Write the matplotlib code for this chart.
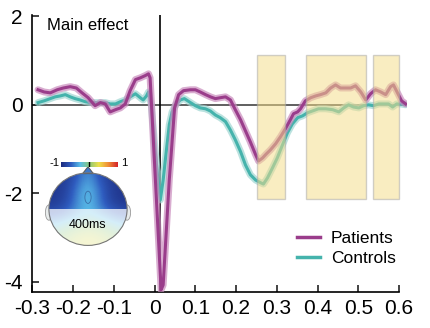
import numpy as np
import matplotlib
matplotlib.use('Agg')
from matplotlib import pyplot as plt
from matplotlib.patches import Ellipse, Rectangle, Polygon
from matplotlib.colors import LinearSegmentedColormap

plt.rcParams['font.family'] = ['Liberation Sans', 'DejaVu Sans']

# ERP amplitude (time in s)
t_pat = [-0.286, -0.271, -0.256, -0.239, -0.224, -0.207, -0.192, -0.178, -0.163, -0.146,
         -0.133, -0.121, -0.109, -0.096, -0.084, -0.072, -0.060, -0.047, -0.035, -0.023,
         -0.015, -0.011, 0.002, 0.016, 0.021, 0.036, 0.049, 0.059, 0.071, 0.088,
         0.100, 0.112, 0.125, 0.137, 0.149, 0.161, 0.174, 0.186, 0.198, 0.211,
         0.223, 0.235, 0.248, 0.255, 0.265, 0.274, 0.284, 0.297, 0.309, 0.321,
         0.333, 0.341, 0.351, 0.358, 0.370, 0.383, 0.395, 0.407, 0.420, 0.432,
         0.444, 0.456, 0.469, 0.481, 0.493, 0.506, 0.518, 0.530, 0.542, 0.555,
         0.567, 0.579, 0.586, 0.596, 0.606, 0.616]
patients = [0.34, 0.29, 0.27, 0.34, 0.38, 0.41, 0.38, 0.27, 0.16, -0.02,
            0.05, 0.02, -0.16, -0.11, -0.07, 0.02, 0.32, 0.57, 0.61, 0.66,
            0.70, 0.61, -1.70, -4.18, -4.07, -1.70, -0.07, 0.23, 0.32, 0.34,
            0.34, 0.29, 0.23, 0.18, 0.14, 0.16, 0.18, 0.11, -0.11, -0.34,
            -0.59, -0.84, -1.13, -1.27, -1.20, -1.11, -1.02, -0.88, -0.72, -0.54,
            -0.34, -0.20, -0.16, -0.09, 0.09, 0.16, 0.20, 0.23, 0.27, 0.38,
            0.45, 0.38, 0.38, 0.38, 0.43, 0.29, 0.11, 0.25, 0.34, 0.29,
            0.23, 0.41, 0.45, 0.27, 0.09, 0.02]

t_con = [-0.286, -0.271, -0.256, -0.244, -0.232, -0.219, -0.207, -0.195, -0.183, -0.170,
         -0.158, -0.146, -0.133, -0.121, -0.109, -0.096, -0.084, -0.072, -0.060, -0.047,
         -0.035, -0.028, -0.020, -0.015, -0.008, -0.001, 0.007, 0.014, 0.021, 0.029,
         0.036, 0.043, 0.053, 0.063, 0.073, 0.088, 0.100, 0.112, 0.125, 0.137,
         0.149, 0.161, 0.174, 0.186, 0.198, 0.211, 0.223, 0.235, 0.248, 0.260,
         0.267, 0.277, 0.289, 0.301, 0.314, 0.326, 0.338, 0.351, 0.363, 0.375,
         0.387, 0.402, 0.420, 0.437, 0.452, 0.464, 0.476, 0.488, 0.501, 0.513,
         0.525, 0.537, 0.550, 0.562, 0.574, 0.584, 0.594, 0.604, 0.616]
controls = [0.05, 0.09, 0.14, 0.18, 0.20, 0.23, 0.18, 0.14, 0.11, 0.07,
            0.05, 0.05, 0.05, 0.05, 0.02, 0.02, 0.07, 0.11, 0.18, 0.25,
            0.16, 0.11, 0.20, 0.29, 0.00, -0.79, -1.58, -2.15, -1.70, -1.02,
            -0.45, -0.16, 0.02, 0.11, 0.14, 0.05, -0.02, -0.07, -0.09, -0.14,
            -0.23, -0.29, -0.38, -0.57, -0.79, -1.06, -1.36, -1.58, -1.70, -1.76,
            -1.79, -1.65, -1.43, -1.20, -0.90, -0.63, -0.43, -0.29, -0.25, -0.18,
            -0.14, -0.09, -0.09, -0.11, -0.16, -0.07, 0.00, -0.05, -0.07, -0.02,
            0.00, -0.02, 0.02, 0.02, 0.02, -0.05, 0.02, 0.02, 0.00]

# significant windows
win_start = [0.252, 0.372, 0.536]
win_end = [0.319, 0.518, 0.600]
win_low, win_high = -2.13, 1.13

# scalp map values at 400 ms (rows top -> bottom)
topo = np.array([[-0.90, -0.88, -0.70, -0.45, -0.75, -0.90, -0.92],
                 [-0.90, -0.85, -0.55, -0.32, -0.60, -0.86, -0.92],
                 [-0.90, -0.80, -0.50, -0.28, -0.58, -0.85, -0.92],
                 [-0.75, -0.62, -0.45, -0.35, -0.45, -0.62, -0.75],
                 [-0.25, -0.10, 0.02, 0.08, 0.02, -0.10, -0.25],
                 [0.05, 0.15, 0.25, 0.30, 0.25, 0.15, 0.05]])

purple = '#9a3d8b'
purple_l = '#c98bbd'
teal = '#45b3ac'
teal_l = '#9fd6d2'

topo_cmap = LinearSegmentedColormap.from_list(
    'topo', ['#1d2c80', '#2f5cbf', '#59bde8', '#8cc878', '#eee04a', '#f09036', '#d6262a'])

fig = plt.figure(figsize=(4.31, 3.28), dpi=100)
ax = fig.add_axes([0.075, 0.111, 0.870, 0.842])

ax.axhline(0, color='#444444', lw=1.2, zorder=1)
ax.axvline(0.014, color='black', lw=1.2, zorder=1)

ax.plot(t_con, controls, color=teal_l, lw=5, alpha=0.7, solid_capstyle='round', zorder=2)
ax.plot(t_con, controls, color=teal, lw=2.2, zorder=3)
ax.plot(t_pat, patients, color=purple_l, lw=5, alpha=0.7, solid_capstyle='round', zorder=4)
ax.plot(t_pat, patients, color=purple, lw=2.2, zorder=5)

for a, b in zip(win_start, win_end):
    ax.add_patch(Rectangle((a, win_low), b - a, win_high - win_low, facecolor='#f5dd88',
                           edgecolor='#a8a8a8', lw=1, alpha=0.52, zorder=6))

ax.set_xlim(-0.3, 0.62)
ax.set_ylim(-4.22, 2.02)
ax.set_xticks([-0.3, -0.2, -0.1, 0, 0.1, 0.2, 0.3, 0.4, 0.5, 0.6])
ax.set_xticklabels(['-0.3', '-0.2', '-0.1', '0', '0.1', '0.2', '0.3', '0.4', '0.5', '0.6'])
ax.set_yticks([-4, -2, 0, 2])
ax.set_yticklabels(['-4', '-2', '0', '2'])
ax.tick_params(direction='in', length=5, width=1.2, labelsize=15, color='#222222')
ax.tick_params(axis='x', pad=5)
ax.tick_params(axis='y', pad=7)
for s in ['top', 'right']:
    ax.spines[s].set_visible(False)
ax.spines['bottom'].set_bounds(-0.3, 0.6)
ax.spines['left'].set_linewidth(1.2)
ax.spines['bottom'].set_linewidth(1.2)

ax.text(47 / 431, 1 - 26 / 328, 'Main effect', transform=fig.transFigure, fontsize=12,
        va='center', ha='left')

leg_h = [plt.Line2D([], [], color=purple, lw=2.5), plt.Line2D([], [], color=teal, lw=2.5)]
fig.legend(leg_h, ['Patients', 'Controls'], loc='upper left', bbox_to_anchor=(297 / 431, 1 - 231 / 328),
           frameon=False, fontsize=12.5, handlelength=1.35, handletextpad=0.6, labelspacing=0.25,
           borderpad=0, borderaxespad=0)

# scalp map inset
axh = fig.add_axes([45 / 431, 1 - 250 / 328, 86 / 431, 84 / 328])
axh.set_axis_off()
for side in [-1, 1]:
    axh.add_patch(Ellipse((side * 1.0, -0.12), 0.18, 0.4, facecolor='#e8ecec', edgecolor='#999999',
                          lw=0.6, zorder=0))
head = Ellipse((0, -0.03), 2.0, 1.9, facecolor='none', edgecolor='#777777', lw=0.8, zorder=5)
axh.add_patch(head)
im = axh.imshow(topo, cmap=topo_cmap, vmin=-1, vmax=1, extent=(-1, 1, -1, 1),
                interpolation='bicubic', aspect='auto', zorder=1)
im.set_clip_path(head)
pale = Rectangle((-1.1, -1.1), 2.2, 1.07, facecolor='white', alpha=0.75, lw=0, zorder=2)
axh.add_patch(pale)
pale.set_clip_path(head)
axh.add_patch(Polygon([[-0.14, 0.9], [0, 1.08], [0.14, 0.9]], closed=True, facecolor='#3d78c8',
                      edgecolor='#555555', lw=0.7, zorder=4))
axh.add_patch(Ellipse((0, 0.28), 0.16, 0.32, facecolor='none', edgecolor='#3a6fa8', lw=0.6, zorder=3))
axh.set_xlim(-1.1, 1.1)
axh.set_ylim(-1.1, 1.1)
axh.text(0, -0.45, '400ms', fontsize=9, ha='center', va='center', zorder=6)

axc = fig.add_axes([61 / 431, 1 - 167 / 328, 57 / 431, 5 / 328])
axc.imshow(np.linspace(-1, 1, 64)[None, :], cmap=topo_cmap, aspect='auto', extent=(-1, 1, 0, 1))
axc.axvline(0, color='black', lw=1)
axc.set_axis_off()
fig.text(55 / 431, 1 - 163 / 328, '-1', fontsize=8, ha='center', va='center')
fig.text(124 / 431, 1 - 163 / 328, '1', fontsize=8, ha='center', va='center')

plt.savefig('out.png', dpi=100)
